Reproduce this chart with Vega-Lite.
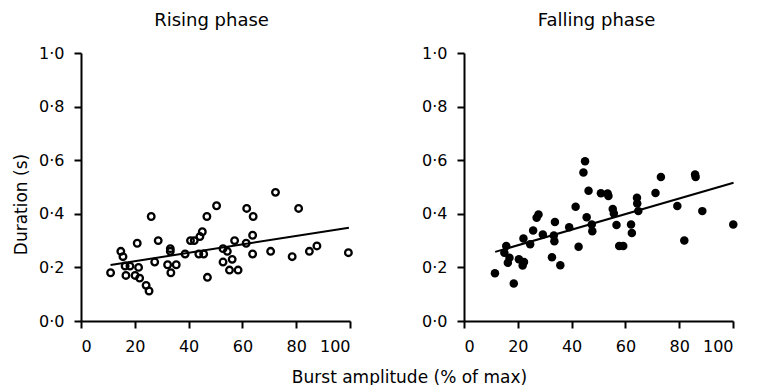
{
  "$schema": "https://vega.github.io/schema/vega-lite/v6.json",
  "background": "white",
  "padding": {"left": 12, "top": 12, "right": 5, "bottom": 0},
  "datasets": {
    "points": [
      {"phase": "Rising", "amp": 11.0, "dur": 0.18},
      {"phase": "Rising", "amp": 14.8, "dur": 0.26},
      {"phase": "Rising", "amp": 15.6, "dur": 0.24},
      {"phase": "Rising", "amp": 16.4, "dur": 0.205},
      {"phase": "Rising", "amp": 16.7, "dur": 0.17},
      {"phase": "Rising", "amp": 18.2, "dur": 0.205},
      {"phase": "Rising", "amp": 20.1, "dur": 0.17},
      {"phase": "Rising", "amp": 20.9, "dur": 0.29},
      {"phase": "Rising", "amp": 21.4, "dur": 0.2},
      {"phase": "Rising", "amp": 21.8, "dur": 0.16},
      {"phase": "Rising", "amp": 24.2, "dur": 0.133},
      {"phase": "Rising", "amp": 25.3, "dur": 0.112},
      {"phase": "Rising", "amp": 26.1, "dur": 0.39},
      {"phase": "Rising", "amp": 27.4, "dur": 0.22},
      {"phase": "Rising", "amp": 28.7, "dur": 0.3},
      {"phase": "Rising", "amp": 32.2, "dur": 0.21},
      {"phase": "Rising", "amp": 33.2, "dur": 0.27},
      {"phase": "Rising", "amp": 33.2, "dur": 0.26},
      {"phase": "Rising", "amp": 33.4, "dur": 0.18},
      {"phase": "Rising", "amp": 35.4, "dur": 0.21},
      {"phase": "Rising", "amp": 38.7, "dur": 0.25},
      {"phase": "Rising", "amp": 40.7, "dur": 0.3},
      {"phase": "Rising", "amp": 42.1, "dur": 0.3},
      {"phase": "Rising", "amp": 44.2, "dur": 0.315},
      {"phase": "Rising", "amp": 45.1, "dur": 0.333},
      {"phase": "Rising", "amp": 43.8, "dur": 0.25},
      {"phase": "Rising", "amp": 45.6, "dur": 0.25},
      {"phase": "Rising", "amp": 46.8, "dur": 0.39},
      {"phase": "Rising", "amp": 47.0, "dur": 0.163},
      {"phase": "Rising", "amp": 50.4, "dur": 0.43},
      {"phase": "Rising", "amp": 52.8, "dur": 0.27},
      {"phase": "Rising", "amp": 52.8, "dur": 0.22},
      {"phase": "Rising", "amp": 54.4, "dur": 0.26},
      {"phase": "Rising", "amp": 55.2, "dur": 0.19},
      {"phase": "Rising", "amp": 56.2, "dur": 0.23},
      {"phase": "Rising", "amp": 57.1, "dur": 0.3},
      {"phase": "Rising", "amp": 58.4, "dur": 0.19},
      {"phase": "Rising", "amp": 61.4, "dur": 0.29},
      {"phase": "Rising", "amp": 61.6, "dur": 0.42},
      {"phase": "Rising", "amp": 64.0, "dur": 0.39},
      {"phase": "Rising", "amp": 63.8, "dur": 0.32},
      {"phase": "Rising", "amp": 63.8, "dur": 0.25},
      {"phase": "Rising", "amp": 70.5, "dur": 0.26},
      {"phase": "Rising", "amp": 72.3, "dur": 0.48},
      {"phase": "Rising", "amp": 78.5, "dur": 0.24},
      {"phase": "Rising", "amp": 80.9, "dur": 0.42},
      {"phase": "Rising", "amp": 84.9, "dur": 0.26},
      {"phase": "Rising", "amp": 87.7, "dur": 0.28},
      {"phase": "Rising", "amp": 99.4, "dur": 0.255},
      {"phase": "Falling", "amp": 11.5, "dur": 0.178},
      {"phase": "Falling", "amp": 15.7, "dur": 0.28},
      {"phase": "Falling", "amp": 15.0, "dur": 0.255},
      {"phase": "Falling", "amp": 16.3, "dur": 0.217},
      {"phase": "Falling", "amp": 16.9, "dur": 0.236},
      {"phase": "Falling", "amp": 18.5, "dur": 0.14},
      {"phase": "Falling", "amp": 20.4, "dur": 0.23},
      {"phase": "Falling", "amp": 21.8, "dur": 0.207},
      {"phase": "Falling", "amp": 22.3, "dur": 0.22},
      {"phase": "Falling", "amp": 22.1, "dur": 0.308},
      {"phase": "Falling", "amp": 24.6, "dur": 0.286},
      {"phase": "Falling", "amp": 25.7, "dur": 0.338},
      {"phase": "Falling", "amp": 27.0, "dur": 0.385},
      {"phase": "Falling", "amp": 27.7, "dur": 0.397},
      {"phase": "Falling", "amp": 29.3, "dur": 0.323},
      {"phase": "Falling", "amp": 32.7, "dur": 0.238},
      {"phase": "Falling", "amp": 33.4, "dur": 0.319},
      {"phase": "Falling", "amp": 33.6, "dur": 0.298},
      {"phase": "Falling", "amp": 33.8, "dur": 0.369},
      {"phase": "Falling", "amp": 35.8, "dur": 0.208},
      {"phase": "Falling", "amp": 39.1, "dur": 0.35},
      {"phase": "Falling", "amp": 41.5, "dur": 0.426},
      {"phase": "Falling", "amp": 42.6, "dur": 0.277},
      {"phase": "Falling", "amp": 44.4, "dur": 0.554},
      {"phase": "Falling", "amp": 45.0, "dur": 0.596},
      {"phase": "Falling", "amp": 45.6, "dur": 0.387},
      {"phase": "Falling", "amp": 46.3, "dur": 0.486},
      {"phase": "Falling", "amp": 47.5, "dur": 0.36},
      {"phase": "Falling", "amp": 47.7, "dur": 0.335},
      {"phase": "Falling", "amp": 50.9, "dur": 0.477},
      {"phase": "Falling", "amp": 53.4, "dur": 0.476},
      {"phase": "Falling", "amp": 53.7, "dur": 0.466},
      {"phase": "Falling", "amp": 55.3, "dur": 0.418},
      {"phase": "Falling", "amp": 55.7, "dur": 0.401},
      {"phase": "Falling", "amp": 56.7, "dur": 0.358},
      {"phase": "Falling", "amp": 57.7, "dur": 0.28},
      {"phase": "Falling", "amp": 59.2, "dur": 0.28},
      {"phase": "Falling", "amp": 62.1, "dur": 0.36},
      {"phase": "Falling", "amp": 62.4, "dur": 0.328},
      {"phase": "Falling", "amp": 64.3, "dur": 0.46},
      {"phase": "Falling", "amp": 64.4, "dur": 0.438},
      {"phase": "Falling", "amp": 64.8, "dur": 0.41},
      {"phase": "Falling", "amp": 71.2, "dur": 0.478},
      {"phase": "Falling", "amp": 73.2, "dur": 0.537},
      {"phase": "Falling", "amp": 79.3, "dur": 0.429},
      {"phase": "Falling", "amp": 81.9, "dur": 0.3},
      {"phase": "Falling", "amp": 85.9, "dur": 0.547},
      {"phase": "Falling", "amp": 86.1, "dur": 0.537},
      {"phase": "Falling", "amp": 88.6, "dur": 0.41},
      {"phase": "Falling", "amp": 100.1, "dur": 0.36}
    ],
    "fits": [
      {"phase": "Rising", "amp": 11.0, "dur": 0.209},
      {"phase": "Rising", "amp": 99.6, "dur": 0.348},
      {"phase": "Falling", "amp": 11.6, "dur": 0.258},
      {"phase": "Falling", "amp": 100.2, "dur": 0.516}
    ]
  },
  "config": {
    "view": {"stroke": null},
    "font": "DejaVu Sans",
    "axis": {
      "grid": false,
      "domainColor": "black",
      "domainWidth": 2,
      "tickColor": "black",
      "tickWidth": 2,
      "tickSize": 7,
      "labelFont": "DejaVu Sans",
      "labelFontSize": 16,
      "labelColor": "black",
      "labelPadding": 10,
      "titleFont": "DejaVu Sans",
      "titleFontSize": 17,
      "titleFontWeight": "normal",
      "titleColor": "black"
    },
    "title": {"font": "DejaVu Sans", "fontSize": 18, "fontWeight": "normal", "color": "black", "frame": "group", "offset": 15}
  },
  "hconcat": [
    {
      "width": 269,
      "height": 268,
      "title": {"text": "Rising phase", "dx": -4},
      "layer": [
        {
          "data": {"name": "points"},
          "transform": [{"filter": "datum.phase === 'Rising'"}],
          "mark": {"type": "point", "shape": "circle", "filled": false, "stroke": "black", "strokeWidth": 2.3, "size": 44, "opacity": 1},
          "encoding": {
            "x": {"field": "amp", "type": "quantitative", "scale": {"domain": [0, 100], "nice": false},
              "axis": {"values": [0, 20, 40, 60, 80, 100], "title": "Burst amplitude (% of max)", "titleX": 328, "titleY": 48, "titleAnchor": "start", "titleAlign": "center", "titleBaseline": "top"}},
            "y": {"field": "dur", "type": "quantitative", "scale": {"domain": [0, 1], "nice": false},
              "axis": {"values": [0, 0.2, 0.4, 0.6, 0.8, 1.0], "labelExpr": "replace(format(datum.value, '.1f'), '.', '·')", "title": "Duration (s)", "titlePadding": 8, "titleY": 151}}
          }
        },
        {
          "data": {"name": "fits"},
          "transform": [{"filter": "datum.phase === 'Rising'"}],
          "mark": {"type": "line", "color": "black", "strokeWidth": 2},
          "encoding": {
            "x": {"field": "amp", "type": "quantitative"},
            "y": {"field": "dur", "type": "quantitative"}
          }
        }
      ]
    },
    {
      "width": 269,
      "height": 268,
      "title": {"text": "Falling phase", "dx": -2},
      "layer": [
        {
          "data": {"name": "points"},
          "transform": [{"filter": "datum.phase === 'Falling'"}],
          "mark": {"type": "point", "shape": "circle", "filled": true, "fill": "black", "size": 72, "opacity": 1},
          "encoding": {
            "x": {"field": "amp", "type": "quantitative", "scale": {"domain": [0, 100], "nice": false},
              "axis": {"values": [0, 20, 40, 60, 80, 100], "title": null}},
            "y": {"field": "dur", "type": "quantitative", "scale": {"domain": [0, 1], "nice": false},
              "axis": {"values": [0, 0.2, 0.4, 0.6, 0.8, 1.0], "labelExpr": "replace(format(datum.value, '.1f'), '.', '·')", "title": null}}
          }
        },
        {
          "data": {"name": "fits"},
          "transform": [{"filter": "datum.phase === 'Falling'"}],
          "mark": {"type": "line", "color": "black", "strokeWidth": 2},
          "encoding": {
            "x": {"field": "amp", "type": "quantitative"},
            "y": {"field": "dur", "type": "quantitative"}
          }
        }
      ]
    }
  ],
  "bounds": "flush",
  "spacing": 114
}
